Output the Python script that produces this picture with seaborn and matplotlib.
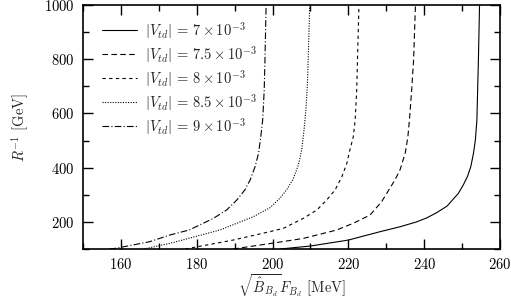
import numpy as np
import pandas as pd
import seaborn as sns
import matplotlib
matplotlib.use("Agg")
import matplotlib.pyplot as plt
from matplotlib.ticker import MultipleLocator

# values
vtd_labels = [r"$|V_{td}|\,=\,7\times10^{-3}$",
              r"$|V_{td}|\,=\,7.5\times10^{-3}$",
              r"$|V_{td}|\,=\,8\times10^{-3}$",
              r"$|V_{td}|\,=\,8.5\times10^{-3}$",
              r"$|V_{td}|\,=\,9\times10^{-3}$"]

x_70 = [202, 210, 220, 228.4, 233.6, 238.0, 240.7, 243.3, 246.0, 249.0, 250.3, 251.4, 252.3,
        253.0, 253.5, 253.9, 254.1, 254.3, 254.6]
y_70 = [100, 111, 133, 164, 182, 200, 215, 234, 258, 305, 336, 367, 404,
        453, 502, 576, 686, 797, 1000]

x_75 = [189.6, 199.3, 208.1, 216.9, 221.3, 225.7, 228.8, 232.3, 233.6, 235.0, 235.7,
        236.1, 236.7, 237.2, 237.7]
y_75 = [100, 120, 139, 170, 195, 225, 275, 355, 391, 454, 514,
        576, 686, 797, 1000]

x_80 = [177.0, 189.6, 199.3, 202.8, 208.1, 211.7, 214.3, 216.5, 218.3, 219.6, 220.4,
        221.3, 221.8, 222.2, 222.4, 222.8]
y_80 = [100, 133, 164, 176, 213, 244, 281, 318, 367, 416, 465,
        514, 576, 686, 797, 1000]

x_85 = [166.0, 173.0, 186.1, 194.9, 199.3, 202.0, 203.7, 205.5, 206.8, 207.7, 208.3,
        208.8, 209.2, 209.4, 209.8]
y_85 = [100, 121, 170, 219, 252, 288, 318, 360, 410, 465, 539,
        613, 711, 797, 1000]

x_90 = [157.0, 158.8, 167.6, 173.0, 178.0, 184.4, 187.9, 190.6, 192.7, 194.1, 195.4,
        196.3, 196.9, 197.4, 197.8, 198.0, 198.3]
y_90 = [100, 103, 127, 152, 170, 213, 244, 281, 318, 355, 404,
        453, 514, 576, 686, 797, 1000]

xs = [x_70, x_75, x_80, x_85, x_90]
ys = [y_70, y_75, y_80, y_85, y_90]
styles = ["-", (0, (5, 3)), (0, (3, 3)), (0, (1, 1.3)), (0, (6, 2, 1, 2))]

sns.set_theme(style="ticks")
plt.rcParams["font.family"] = "serif"
plt.rcParams["font.serif"] = ["cmr10"]
plt.rcParams["mathtext.fontset"] = "cm"
plt.rcParams["axes.formatter.use_mathtext"] = True

fig = plt.figure(figsize=(5.11, 2.99), dpi=100)
ax = fig.add_axes([0.1624, 0.1672, 0.8161, 0.8161])

for i in range(5):
    df = pd.DataFrame({"x": xs[i], "y": ys[i]})
    sns.lineplot(data=df, x="x", y="y", ax=ax, color="black", lw=0.8,
                 linestyle=styles[i], label=vtd_labels[i])

ax.set_xlim(150, 260)
ax.set_ylim(100, 1000)
ax.xaxis.set_minor_locator(MultipleLocator(10))
ax.yaxis.set_minor_locator(MultipleLocator(100))
ax.set_xticks([160, 180, 200, 220, 240, 260])
ax.set_yticks([200, 400, 600, 800, 1000])
ax.tick_params(which="both", direction="in", top=True, right=True,
               labelsize=10.5, colors="black", pad=6)
ax.tick_params(which="major", length=7, width=1.0)
ax.tick_params(which="minor", length=4, width=1.0)
for s in ax.spines.values():
    s.set_linewidth(1.2)
    s.set_color("black")

ax.set_xlabel(r"$\sqrt{\hat{B}_{B_d}}F_{B_d}$ [MeV]", fontsize=10.5, labelpad=0)
ax.set_ylabel(r"$R^{-1}$ [GeV]", fontsize=10.5, labelpad=9)

ax.legend(loc="upper left", bbox_to_anchor=(0.045, 0.94), frameon=False,
          fontsize=10.5, handlelength=2.4, handletextpad=0.55, labelspacing=0.22,
          borderpad=0, borderaxespad=0)

fig.savefig("out.png", dpi=100)
